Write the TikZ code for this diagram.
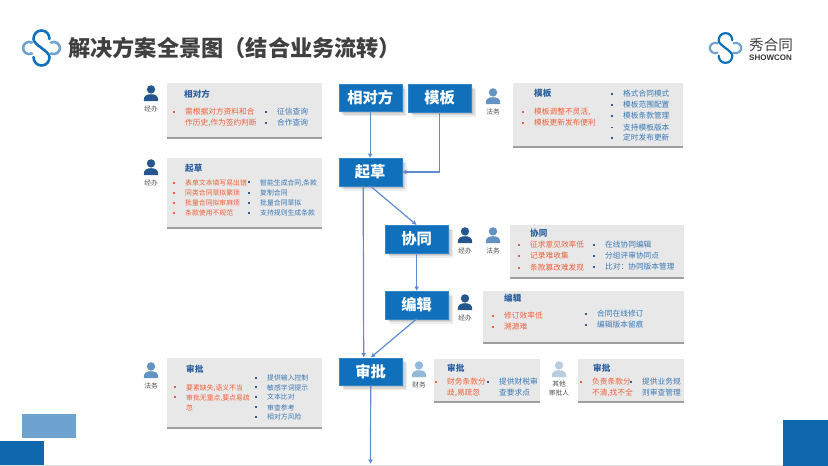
\documentclass[tikz,border=0pt]{standalone}
\usepackage{fontspec}
\setmainfont{Noto Sans CJK SC}
\newfontfamily\latinfont{Liberation Sans}
\usetikzlibrary{arrows.meta,shadows}
\definecolor{mainblue}{HTML}{1070BC}
\definecolor{softblue}{HTML}{6FA3CF}
\definecolor{cardgray}{HTML}{E8E8E8}
\definecolor{redtxt}{HTML}{F0603A}
\definecolor{bluetxt}{HTML}{3B78B4}
\definecolor{headtxt}{HTML}{2A5F9E}
\definecolor{flowblue}{HTML}{5F8CD0}
\newcommand{\redpt}{\makebox[0pt][r]{\textcolor{redtxt}{\rule[2pt]{1.9pt}{1.9pt}}\hspace{10pt}}}
\newcommand{\bluept}{\makebox[0pt][r]{\textcolor{headtxt}{\rule[2pt]{1.9pt}{1.9pt}}\hspace{10pt}}}
\begin{document}
\begin{tikzpicture}[x=1pt,y=-1pt]

\tikzset{stepbox/.style = {rectangle,fill=mainblue,draw=mainblue!85!white,line width=.4pt,text=white,font=\fontsize{15.3}{16}\selectfont\bfseries,inner sep=0pt,minimum width=63pt,minimum height=27.5pt,anchor=north west,
  drop shadow={shadow xshift=5pt,shadow yshift=-5pt,opacity=.07,fill=black},
  drop shadow={shadow xshift=3.5pt,shadow yshift=-3.5pt,opacity=.09,fill=black},
  drop shadow={shadow xshift=2pt,shadow yshift=-2pt,opacity=.1,fill=black}}}
\tikzset{card/.style = {rectangle,fill=cardgray,inner sep=0pt,anchor=north west,
  copy shadow={shadow xshift=0pt,shadow yshift=-1.8pt,fill=black!38,draw=none}}}
\tikzset{flow/.style = {draw=flowblue,line width=1.2pt,-{Latex[length=4.5pt,width=5pt]}}}
\tikzset{cardhead/.style = {anchor=west,inner sep=0pt,text=headtxt,font=\fontsize{8.6}{9}\selectfont\bfseries}}
\tikzset{redline/.style = {anchor=west,inner sep=0pt,text=redtxt,font=\fontsize{7.7}{9}\selectfont}}
\tikzset{blueline/.style = {anchor=west,inner sep=0pt,text=bluetxt,font=\fontsize{7.7}{9}\selectfont}}
\tikzset{smallred/.style = {redline,font=\fontsize{6.85}{8}\selectfont}}
\tikzset{smallblue/.style = {blueline,font=\fontsize{6.85}{8}\selectfont}}
\tikzset{role/.style = {inner sep=0pt,text=black!70,font=\fontsize{6.7}{8.6}\selectfont,align=center}}
\tikzset{person/.pic = {
  \fill[pic actions] (0,-3.6) circle (4.2);
  \fill[pic actions] (-7.2,8) .. controls (-7.6,2.5) and (-4,1.2) .. (0,1.2) .. controls (4,1.2) and (7.6,2.5) .. (7.2,8) -- cycle;
}}
\tikzset{logo/.pic = {
  \draw[softblue,line width=\pgfkeysvalueof{/tikz/logo width},line cap=round] (-9.5,-5.5) .. controls (-14,-7.5) and (-18.5,-4) .. (-18.5,0) .. controls (-18.5,4) and (-14,7.5) .. (-9.5,5.5);
  \draw[softblue,line width=\pgfkeysvalueof{/tikz/logo width},line cap=round] (9.5,-5.5) .. controls (14,-7.5) and (18.5,-4) .. (18.5,0) .. controls (18.5,4) and (14,7.5) .. (9.5,5.5);
  \draw[mainblue,line width=\pgfkeysvalueof{/tikz/logo width},line cap=round] (8,-9) .. controls (8,-14) and (4.5,-17.5) .. (0,-17.5) .. controls (-5,-17.5) and (-8,-13.5) .. (-8,-9) .. controls (-8,-3) and (8,3) .. (8,9) .. controls (8,13.5) and (5,17.5) .. (0,17.5) .. controls (-4.5,17.5) and (-8,14) .. (-8,9);
}}
\tikzset{logo width/.initial=2.6pt}

\useasboundingbox (0,0) rectangle (828,466);

\fill[black!12] (0,465) rectangle (828,466);
\fill[softblue] (22,414) rectangle (76,438);
\fill[mainblue!92!black] (0,441) rectangle (44,465);
\fill[mainblue!92!black] (783,420) rectangle (828,466);

\pic at (41.5,48) {logo};
\node[anchor=west,inner sep=0pt,text=black!75,font=\fontsize{22.2}{24}\selectfont\bfseries] (title) at (68,48) {解决方案全景图（结合业务流转）};
\pic[scale=.85,logo width=2.2pt] at (725.5,48) {logo};
\node[anchor=west,inner sep=0pt,text=black!75,font=\fontsize{14.6}{16}\selectfont] (brand) at (749,45) {秀合同};
\node[anchor=west,inner sep=0pt,text=black!80,font=\latinfont\fontsize{8}{8}\selectfont\bfseries] (brandlatin) at (749,58) {SHOWCON};

\node[stepbox] (party) at (338.5,83.5) {相对方};
\node[stepbox] (tmpl) at (408,84) {模板};
\node[stepbox] (draft) at (338.5,158) {起草};
\node[stepbox] (coop) at (385,225) {协同};
\node[stepbox] (edit) at (385,291) {编辑};
\node[stepbox] (audit) at (339,357.5) {审批};
\coordinate (tail) at (370.5,464);

\draw[flow] (party) to (draft);
\draw[flow] (tmpl.south) |- (draft.east);
\draw[flow] (draft.south) to (coop.north);
\draw[flow] ([xshift=-7pt]draft.south) to ([xshift=-7pt]audit.north);
\draw[flow] (coop) to (edit);
\draw[flow] (edit.south) to (audit.north);
\draw[flow] (audit.south) to (tail);

\node[card,minimum width=155pt,minimum height=54pt] (cparty) at (167,83) {};
\node[card,minimum width=155pt,minimum height=69pt] (cdraft) at (167,158) {};
\node[card,minimum width=170pt,minimum height=63pt] (ctmpl) at (513,83) {};
\node[card,minimum width=174pt,minimum height=52pt] (ccoop) at (510,225) {};
\node[card,minimum width=201pt,minimum height=51pt] (cedit) at (483,291) {};
\node[card,minimum width=155pt,minimum height=69pt] (caudit) at (167,358) {};
\node[card,minimum width=106pt,minimum height=42pt] (cfin) at (434,359) {};
\node[card,minimum width=106pt,minimum height=42pt] (coth) at (578,359) {};

\pic[fill=headtxt!90!black] at (151,93) {person};
\node[role] (r1) at (151,109) {经办};
\pic[fill=headtxt!90!black] at (151,167) {person};
\node[role] (r2) at (151,183) {经办};
\pic[fill=bluetxt!80!white] at (493,96) {person};
\node[role] (r3) at (493,112) {法务};
\pic[fill=headtxt!90!black] at (465,235) {person};
\node[role] (r4) at (465,251) {经办};
\pic[fill=bluetxt!80!white] at (493,235) {person};
\node[role] (r5) at (493,251) {法务};
\pic[fill=headtxt!90!black] at (465,302) {person};
\node[role] (r6) at (465,318) {经办};
\pic[fill=bluetxt!80!white] at (151,370) {person};
\node[role] (r7) at (151,386) {法务};
\pic[fill=softblue!75!white] at (419,369) {person};
\node[role] (r8) at (419,385) {财务};
\pic[fill=black!12!softblue!45!white] at (559,369) {person};
\node[role,anchor=north] (r9) at (559,381) {其他\\审批人};

\node[cardhead] (h1) at (184,94) {相对方};
\node[redline] (a1) at (185,112) {\redpt 需根据对方资料和合};
\node[redline] (a2) at (185,123) {作历史,作为签约判断};
\node[blueline] (a3) at (277,112) {\bluept 征信查询};
\node[blueline] (a4) at (277,123) {\bluept 合作查询};

\node[cardhead] (h2) at (185,168) {起草};
\node[smallred] (b1) at (185,183) {\redpt 表单文本填写易出错};
\node[smallred] (b2) at (185,193) {\redpt 同类合同草拟繁琐};
\node[smallred] (b3) at (185,203) {\redpt 批量合同拟审麻烦};
\node[smallred] (b4) at (185,213) {\redpt 条款使用不规范};
\node[smallblue] (b5) at (260,183) {\bluept 智能生成合同,条款};
\node[smallblue] (b6) at (260,193) {\bluept 复制合同};
\node[smallblue] (b7) at (260,203) {\bluept 批量合同草拟};
\node[smallblue] (b8) at (260,213) {\bluept 支持规则生成条款};

\node[cardhead] (h3) at (534,93) {模板};
\node[redline] (d1) at (534,112) {\redpt 模板调整不灵活,};
\node[redline] (d2) at (534,123) {\redpt 模板更新发布便利};
\node[blueline] (d3) at (623,94) {\bluept 格式合同模式};
\node[blueline] (d4) at (623,105) {\bluept 模板范围配置};
\node[blueline] (d5) at (623,116) {\bluept 模板条款管理};
\node[blueline] (d6) at (623,127.5) {\bluept 支持模板版本};
\node[blueline] (d7) at (623,138) {\bluept 定时发布更新};

\node[cardhead] (h4) at (530,233) {协同};
\node[redline] (e1) at (530,245) {\redpt 征求意见效率低};
\node[redline] (e2) at (530,256) {\redpt 记录难收集};
\node[redline] (e3) at (530,268) {\redpt 条款篡改难发现};
\node[blueline] (e4) at (605,245) {\bluept 在线协同编辑};
\node[blueline] (e5) at (605,256) {\bluept 分组评审协同点};
\node[blueline] (e6) at (605,267) {\bluept 比对：协同版本管理};

\node[cardhead] (h5) at (504,298) {编辑};
\node[redline] (f1) at (504,316) {\redpt 修订效率低};
\node[redline] (f2) at (504,327) {\redpt 溯源难};
\node[blueline] (f3) at (597,314) {\bluept 合同在线修订};
\node[blueline] (f4) at (597,325) {\bluept 编辑版本留痕};

\node[cardhead] (h6) at (186,369) {审批};
\node[smallred] (g1) at (186,388) {\redpt 要素缺失,语义不当};
\node[smallred] (g2) at (186,398) {\redpt 审批无重点,要点易疏};
\node[smallred] (g3) at (186,408) {忽};
\node[smallblue] (g4) at (267,378) {\bluept 提供输入控制};
\node[smallblue] (g5) at (267,387.5) {\bluept 敏感字词提示};
\node[smallblue] (g6) at (267,397) {\bluept 文本比对};
\node[smallblue] (g7) at (267,407.5) {\bluept 审查参考};
\node[smallblue] (g8) at (267,417) {\bluept 相对方风险};

\node[cardhead] (h7) at (447,368) {审批};
\node[redline] (k1) at (447,382) {\redpt 财务条款分};
\node[redline] (k2) at (447,393) {歧,易疏忽};
\node[blueline] (k3) at (499,382) {\bluept 提供财税审};
\node[blueline] (k4) at (499,393) {查要求点};

\node[cardhead] (h8) at (593,368) {审批};
\node[redline] (m1) at (592,382) {\redpt 负责条款分};
\node[redline] (m2) at (592,393) {不清,找不全};
\node[blueline] (m3) at (642,382) {\bluept 提供业务规};
\node[blueline] (m4) at (642,393) {则审查管理};

\end{tikzpicture}
\end{document}
